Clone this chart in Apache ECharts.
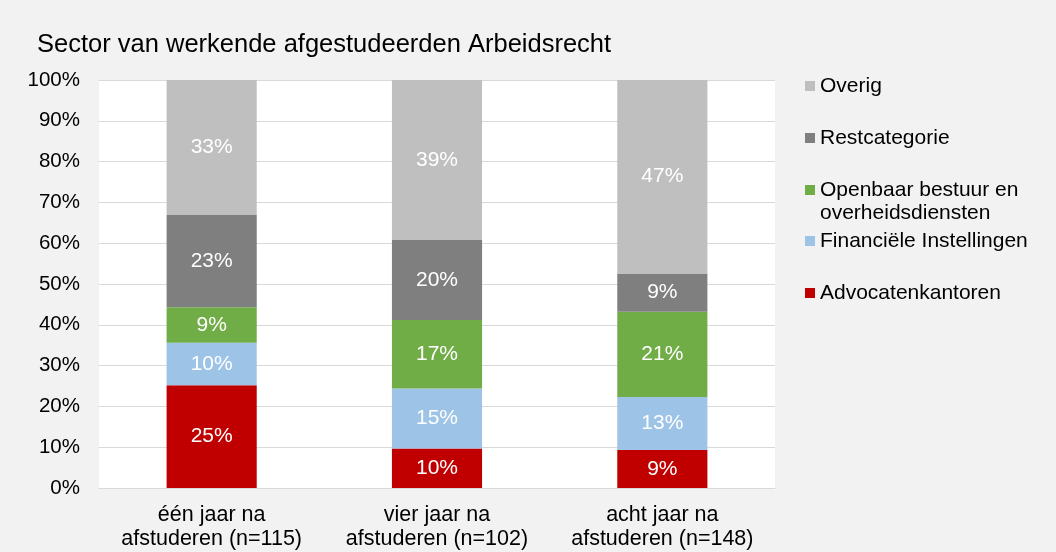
<!DOCTYPE html>
<html>
<head>
<meta charset="utf-8">
<script src="https://cdn.jsdelivr.net/npm/echarts@6/dist/echarts.min.js"></script>
<style>html,body{margin:0;padding:0;background:#f2f2f2;}#c{width:1056px;height:552px;}</style>
</head>
<body>
<div id="c"></div>
<script>
const categories = ['één jaar na\nafstuderen (n=115)', 'vier jaar na\nafstuderen (n=102)', 'acht jaar na\nafstuderen (n=148)'];
const yTicks = [0, 10, 20, 30, 40, 50, 60, 70, 80, 90, 100];
const seriesNames = ['Advocatenkantoren', 'Financiële Instellingen', 'Openbaar bestuur en overheidsdiensten', 'Restcategorie', 'Overig'];
const advocaten = [25.2, 9.7, 9.3];
const financieel = [10.4, 14.7, 13.0];
const openbaar = [8.7, 16.8, 20.9];
const rest = [22.6, 19.6, 9.4];
const overig = [33.1, 39.2, 47.4];

const colors = ['#c00000', '#9dc3e6', '#70ad47', '#7f7f7f', '#bfbfbf'];
const values = [advocaten, financieel, openbaar, rest, overig];
const FONT = 'Liberation Sans, Arial, sans-serif';

const chart = echarts.init(document.getElementById('c'));
const legendTops = {'Overig': 85, 'Restcategorie': 137, 'Openbaar bestuur en overheidsdiensten': 189, 'Financiële Instellingen': 240, 'Advocatenkantoren': 292};
const legends = Object.keys(legendTops).map(n => ({
  data: [n],
  left: 805,
  top: legendTops[n] - 11,
  orient: 'vertical',
  itemWidth: 10, itemHeight: 10, icon: 'rect',
  padding: 0,
  selectedMode: false,
  formatter: nm => nm === 'Openbaar bestuur en overheidsdiensten' ? 'Openbaar bestuur en' : nm,
  textStyle: {fontFamily: FONT, fontSize: 21, color: '#000', lineHeight: 24}
}));

chart.setOption({
  backgroundColor: '#f2f2f2',
  animation: false,
  title: {
    text: 'Sector van werkende afgestudeerden Arbeidsrecht',
    left: 37, top: 32, padding: 0,
    textStyle: {fontFamily: FONT, fontSize: 25.5, fontWeight: 'normal', color: '#000'}
  },
  legend: legends,
  graphic: [{
    type: 'text', left: 820, top: 203,
    style: {text: 'overheidsdiensten', font: '21px ' + FONT, fill: '#000'}
  }],
  grid: {left: 99, right: 281, top: 80, bottom: 64, show: true, backgroundColor: '#ffffff', borderWidth: 0},
  xAxis: {
    type: 'category', data: categories,
    axisLine: {lineStyle: {color: '#d9d9d9', width: 1}},
    axisTick: {show: false},
    axisLabel: {interval: 0, hideOverlap: false, fontFamily: FONT, fontSize: 21.5, color: '#000', lineHeight: 24, margin: 15}
  },
  yAxis: {
    type: 'value', min: yTicks[0], max: yTicks[yTicks.length - 1], interval: 10,
    axisLine: {show: false}, axisTick: {show: false},
    splitLine: {lineStyle: {color: '#d9d9d9', width: 1}},
    axisLabel: {fontFamily: FONT, fontSize: 20.5, color: '#000', margin: 19, formatter: '{value}%'}
  },
  series: seriesNames.map((n, i) => ({
    name: n, type: 'bar', stack: 'a', barWidth: '40%',
    data: values[i],
    itemStyle: {color: colors[i]},
    label: {show: true, position: 'inside', color: '#fff', fontFamily: FONT, fontSize: 21,
      formatter: p => Math.round(p.value) + '%'}
  }))
});
</script>
</body>
</html>
